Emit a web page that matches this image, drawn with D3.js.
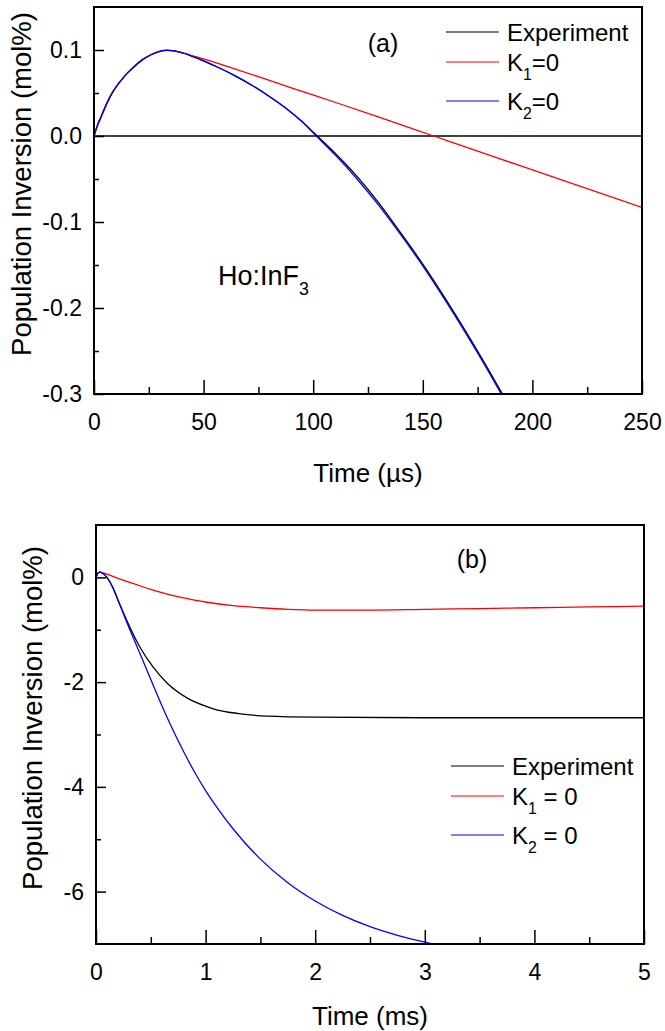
<!DOCTYPE html>
<html>
<head>
<meta charset="utf-8">
<script src="https://cdn.jsdelivr.net/npm/d3@7"></script>
<style>
  body { margin: 0; background: #fff; }
  svg { display: block; font-family: Arial, "Liberation Sans", sans-serif; }
</style>
</head>
<body>
<svg id="chart"></svg>
<script>
// panel (a): time in microseconds
const aExpTime = [0, 1, 2, 3, 5, 7, 9, 12, 15, 18, 22, 26, 30, 33, 36, 40, 48, 56, 64, 72, 80, 88, 95, 101, 110, 120, 130, 140, 150, 160, 170, 180, 187, 192];
const aExpVal = [0, 0.008, 0.015, 0.021, 0.033, 0.044, 0.053, 0.0635, 0.0725, 0.080, 0.0885, 0.0945, 0.0985, 0.0995, 0.0993, 0.097, 0.0895, 0.0805, 0.0705, 0.059, 0.046, 0.0315, 0.0165, 0.002, -0.020, -0.047, -0.078, -0.113, -0.149, -0.188, -0.229, -0.272, -0.303, -0.325];
const aK1Time = [0, 1, 2, 3, 5, 7, 9, 12, 15, 18, 22, 26, 30, 33, 37, 42, 48, 60, 75, 90, 112, 130, 155, 180, 210, 250];
const aK1Val = [0, 0.008, 0.015, 0.021, 0.033, 0.044, 0.053, 0.0635, 0.0725, 0.080, 0.0885, 0.0945, 0.0985, 0.0998, 0.0985, 0.0955, 0.091, 0.0815, 0.069, 0.056, 0.0375, 0.022, 0.000, -0.022, -0.048, -0.083];
const aK2Time = [0, 1, 2, 3, 5, 7, 9, 12, 15, 18, 22, 26, 30, 33, 36, 40, 48, 56, 64, 72, 80, 88, 95, 101, 110, 120, 130, 140, 150, 160, 170, 180, 186, 190];
const aK2Val = [0, 0.008, 0.015, 0.021, 0.033, 0.044, 0.053, 0.0635, 0.0725, 0.080, 0.0885, 0.0945, 0.0985, 0.0995, 0.0993, 0.097, 0.0895, 0.0805, 0.0705, 0.059, 0.046, 0.0315, 0.0165, 0.001, -0.022, -0.050, -0.081, -0.115, -0.151, -0.190, -0.231, -0.274, -0.301, -0.32];

// panel (b): time in milliseconds
const bExpTime = [0, 0.015, 0.03, 0.06, 0.1, 0.15, 0.2, 0.28, 0.4, 0.52, 0.65, 0.83, 1.0, 1.1, 1.3, 1.56, 2.0, 3.0, 4.0, 5.0];
const bExpVal = [0, 0.07, 0.1, 0.08, 0.0, -0.18, -0.43, -0.82, -1.33, -1.71, -2.02, -2.3, -2.46, -2.53, -2.6, -2.65, -2.67, -2.68, -2.68, -2.68];
const bK1Time = [0, 0.015, 0.03, 0.06, 0.1, 0.2, 0.3, 0.4, 0.5, 0.65, 0.8, 1.0, 1.25, 1.5, 1.75, 2.0, 2.5, 3.0, 3.5, 4.0, 4.5, 5.0];
const bK1Val = [0, 0.07, 0.1, 0.09, 0.06, -0.02, -0.09, -0.16, -0.23, -0.32, -0.39, -0.47, -0.54, -0.58, -0.61, -0.625, -0.625, -0.61, -0.595, -0.58, -0.565, -0.55];
const bK2Time = [0, 0.015, 0.03, 0.06, 0.1, 0.15, 0.2, 0.28, 0.4, 0.5, 0.65, 0.8, 0.9, 1.0, 1.1, 1.25, 1.5, 1.75, 2.0, 2.25, 2.5, 2.75, 3.0, 3.25];
const bK2Val = [0, 0.07, 0.1, 0.08, 0.0, -0.18, -0.43, -0.85, -1.45, -1.95, -2.68, -3.33, -3.72, -4.07, -4.38, -4.80, -5.38, -5.83, -6.18, -6.455, -6.67, -6.835, -6.965, -7.065];

// ticks
const aXTicks = [0, 50, 100, 150, 200, 250];
const aXMinor = [25, 75, 125, 175, 225];
const aYTicks = [-0.3, -0.2, -0.1, 0.0, 0.1];
const aYMinor = [-0.25, -0.15, -0.05, 0.05];
const bXTicks = [0, 1, 2, 3, 4, 5];
const bXMinor = [0.5, 1.5, 2.5, 3.5, 4.5];
const bYTicks = [-6, -4, -2, 0];
const bYMinor = [-5, -3, -1];

const width = 665;
const height = 1031;
const font = 'Arial, "Liberation Sans", sans-serif';

const svg = d3.select('#chart').attr('width', width).attr('height', height);
svg.append('rect').attr('width', width).attr('height', height).attr('fill', '#fff');

/**
 * draws one panel: frame, inward ticks, curves, titles
 */
function drawPanel(cfg) {
    const x = d3.scaleLinear().domain(cfg.xDomain).range([cfg.left, cfg.right]);
    const y = d3.scaleLinear().domain(cfg.yDomain).range([cfg.bottom, cfg.top]);
    const g = svg.append('g');

    const clipId = 'clip-' + cfg.id;
    g.append('clipPath').attr('id', clipId)
        .append('rect')
        .attr('x', cfg.left).attr('y', cfg.top)
        .attr('width', cfg.right - cfg.left).attr('height', cfg.bottom - cfg.top);

    // major / minor ticks
    g.append('g').attr('transform', `translate(0,${cfg.bottom})`)
        .call(d3.axisBottom(x).tickValues(cfg.xTicks).tickSize(-14).tickPadding(20).tickFormat(cfg.xFormat));
    g.append('g').attr('transform', `translate(0,${cfg.bottom})`)
        .call(d3.axisBottom(x).tickValues(cfg.xMinor).tickSize(-7).tickFormat(''));
    g.append('g').attr('transform', `translate(${cfg.left},0)`)
        .call(d3.axisLeft(y).tickValues(cfg.yTicks).tickSize(-10).tickPadding(12).tickFormat(cfg.yFormat));
    g.append('g').attr('transform', `translate(${cfg.left},0)`)
        .call(d3.axisLeft(y).tickValues(cfg.yMinor).tickSize(-5).tickFormat(''));

    g.selectAll('.domain').remove();
    g.selectAll('.tick line').attr('stroke', '#000').attr('stroke-width', 1.5);
    g.selectAll('.tick text').attr('fill', '#000').style('font-family', font).style('font-size', '23px');

    // zero reference line
    if (cfg.zeroLine) {
        g.append('line')
            .attr('x1', x(cfg.xDomain[0])).attr('x2', x(cfg.xDomain[1]))
            .attr('y1', y(0)).attr('y2', y(0))
            .attr('stroke', '#000').attr('stroke-width', 1.5);
    }

    // curves
    const line = d3.line().x(d => x(d[0])).y(d => y(d[1])).curve(d3.curveMonotoneX);
    cfg.series.forEach(s => {
        g.append('path')
            .datum(d3.zip(s.time, s.val))
            .attr('clip-path', `url(#${clipId})`)
            .attr('d', line)
            .attr('fill', 'none')
            .attr('stroke', s.color)
            .attr('stroke-width', 1.3);
    });

    // frame
    g.append('rect')
        .attr('x', cfg.left).attr('y', cfg.top)
        .attr('width', cfg.right - cfg.left).attr('height', cfg.bottom - cfg.top)
        .attr('fill', 'none').attr('stroke', '#000').attr('stroke-width', 2);

    // axis titles
    g.append('text')
        .attr('x', (cfg.left + cfg.right) / 2).attr('y', cfg.xTitleY)
        .attr('text-anchor', 'middle')
        .style('font-family', font).style('font-size', '26px')
        .text(cfg.xTitle);
    g.append('text')
        .attr('transform', `translate(${cfg.yTitleX},${cfg.yTitleMid}) rotate(-90)`)
        .attr('text-anchor', 'middle')
        .style('font-family', font).style('font-size', '27.5px')
        .text('Population Inversion (mol%)');

    // panel tag
    g.append('text')
        .attr('x', cfg.tag.x).attr('y', cfg.tag.y)
        .attr('text-anchor', 'middle')
        .style('font-family', font).style('font-size', '25px')
        .text(cfg.tag.text);

    // legend
    const lg = cfg.legend;
    lg.rows.forEach((r, i) => {
        const ly = lg.lineY[i];
        g.append('line')
            .attr('x1', lg.x1).attr('x2', lg.x2)
            .attr('y1', ly).attr('y2', ly)
            .attr('stroke', r.color).attr('stroke-width', 1.2);
        const t = g.append('text')
            .attr('x', lg.textX).attr('y', ly + 9)
            .style('font-family', font).style('font-size', '24px');
        writeSub(t, r.label, 24);
    });

    return { x, y, g };
}

/**
 * label parts: [main, subscript, rest]
 */
function writeSub(t, parts, fs) {
    t.append('tspan').text(parts[0]);
    if (parts.length > 1) {
        t.append('tspan').attr('dy', fs * 0.36).style('font-size', (fs * 0.66) + 'px').text(parts[1]);
        if (parts[2]) t.append('tspan').attr('dy', -fs * 0.36).text(parts[2]);
    }
}

const fmtA = d => d.toFixed(1);
const fmtB = d => String(d);

const panelA = drawPanel({
    id: 'a',
    left: 94, right: 642, top: 7, bottom: 394,
    xDomain: [0, 250], yDomain: [-0.3, 0.15],
    xTicks: aXTicks, xMinor: aXMinor, yTicks: aYTicks, yMinor: aYMinor,
    xFormat: fmtB, yFormat: fmtA,
    zeroLine: true,
    xTitle: 'Time (\u00b5s)', xTitleY: 482,
    yTitleX: 31, yTitleMid: 184,
    tag: { text: '(a)', x: 383, y: 52 },
    series: [
        { time: aExpTime, val: aExpVal, color: '#000' },
        { time: aK1Time, val: aK1Val, color: '#ff0000' },
        { time: aK2Time, val: aK2Val, color: '#0000ff' }
    ],
    legend: {
        x1: 446, x2: 499, textX: 507, lineY: [32, 62, 101],
        rows: [
            { label: ['Experiment'], color: '#000' },
            { label: ['K', '1', '=0'], color: '#ff0000' },
            { label: ['K', '2', '=0'], color: '#0000ff' }
        ]
    }
});

// material label in panel (a)
const mat = panelA.g.append('text')
    .attr('x', 218).attr('y', 285)
    .style('font-family', font).style('font-size', '27px');
writeSub(mat, ['Ho:InF', '3'], 27);

drawPanel({
    id: 'b',
    left: 96, right: 644, top: 525, bottom: 944,
    xDomain: [0, 5], yDomain: [-7, 1],
    xTicks: bXTicks, xMinor: bXMinor, yTicks: bYTicks, yMinor: bYMinor,
    xFormat: fmtB, yFormat: d => String(d),
    zeroLine: false,
    xTitle: 'Time (ms)', xTitleY: 1025,
    yTitleX: 42, yTitleMid: 718,
    tag: { text: '(b)', x: 472, y: 568 },
    series: [
        { time: bExpTime, val: bExpVal, color: '#000' },
        { time: bK1Time, val: bK1Val, color: '#ff0000' },
        { time: bK2Time, val: bK2Val, color: '#0000ff' }
    ],
    legend: {
        x1: 451, x2: 504, textX: 512, lineY: [766, 796, 835],
        rows: [
            { label: ['Experiment'], color: '#000' },
            { label: ['K', '1', ' = 0'], color: '#ff0000' },
            { label: ['K', '2', ' = 0'], color: '#0000ff' }
        ]
    }
});
</script>
</body>
</html>
